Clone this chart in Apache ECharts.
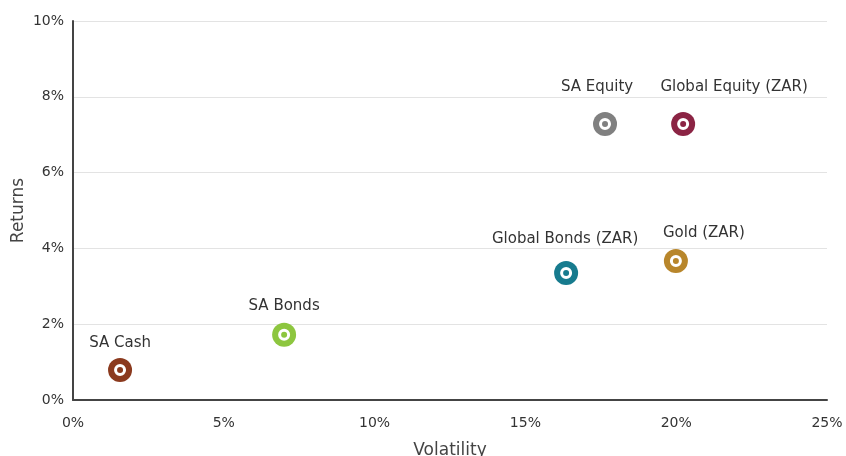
<!DOCTYPE html>
<html>
<head>
<meta charset="utf-8">
<script src="https://cdn.jsdelivr.net/npm/echarts@6/dist/echarts.min.js"></script>
<style>
  html, body { margin: 0; padding: 0; background: #fff; }
  #chart { width: 846px; height: 456px; }
</style>
</head>
<body>
<div id="chart"></div>
<script>
// asset classes, volatility (%) and returns (%)
const assets = ['SA Cash', 'SA Bonds', 'Global Bonds (ZAR)', 'Gold (ZAR)', 'SA Equity', 'Global Equity (ZAR)'];
const volatility = [1.56, 7.0, 16.35, 19.99, 17.64, 20.23];
const returns = [0.79, 1.72, 3.35, 3.67, 7.28, 7.28];
const colors = ['#8b3a1e', '#8dc63f', '#177b8e', '#b8862b', '#808080', '#8b2444'];
// where each label sits relative to its marker (px)
const labelOffsets = [[0, -27], [0, -29], [-1, -34], [28, -28], [-8, -37], [51, -37]];

const font = '"DejaVu Sans", sans-serif';

const series = [];
assets.forEach((name, i) => {
    const point = [[volatility[i], returns[i]]];
    // outer coloured disc, carries the label
    series.push({
        name: name,
        type: 'scatter',
        symbol: 'circle',
        symbolSize: 24,
        data: point,
        itemStyle: { color: colors[i], opacity: 1 },
        label: {
            show: true,
            position: 'inside',
            offset: labelOffsets[i],
            formatter: name,
            color: '#333',
            fontSize: 15,
            fontFamily: font
        },
        z: 2
    });
    // white ring with coloured centre
    series.push({
        name: name,
        type: 'scatter',
        symbol: 'circle',
        symbolSize: 9,
        data: point,
        itemStyle: { color: colors[i], borderColor: '#fff', borderWidth: 3, opacity: 1 },
        silent: true,
        z: 3
    });
});

const chart = echarts.init(document.getElementById('chart'));
chart.setOption({
    animation: false,
    grid: { left: 73, right: 19, top: 21, bottom: 56, outerBoundsMode: 'none' },
    xAxis: {
        type: 'value',
        min: 0, max: 25, interval: 5,
        name: 'Volatility',
        nameLocation: 'middle',
        nameGap: 42,
        nameTextStyle: { color: '#444', fontSize: 17, fontFamily: font },
        axisLine: { show: true, lineStyle: { color: '#444', width: 2 } },
        axisTick: { show: false },
        splitLine: { show: false },
        axisLabel: { formatter: '{value}%', color: '#333', fontSize: 14, fontFamily: font, margin: 16 }
    },
    yAxis: {
        type: 'value',
        min: 0, max: 10, interval: 2,
        name: 'Returns',
        nameLocation: 'middle',
        nameGap: 46,
        nameMoveOverlap: false,
        nameTextStyle: { color: '#444', fontSize: 17, fontFamily: font },
        axisLine: { show: true, lineStyle: { color: '#444', width: 2 } },
        axisTick: { show: false },
        splitLine: { show: true, lineStyle: { color: '#e3e3e3' } },
        axisLabel: { formatter: '{value}%', color: '#333', fontSize: 14, fontFamily: font, margin: 9 }
    },
    series: series
});
</script>
</body>
</html>
